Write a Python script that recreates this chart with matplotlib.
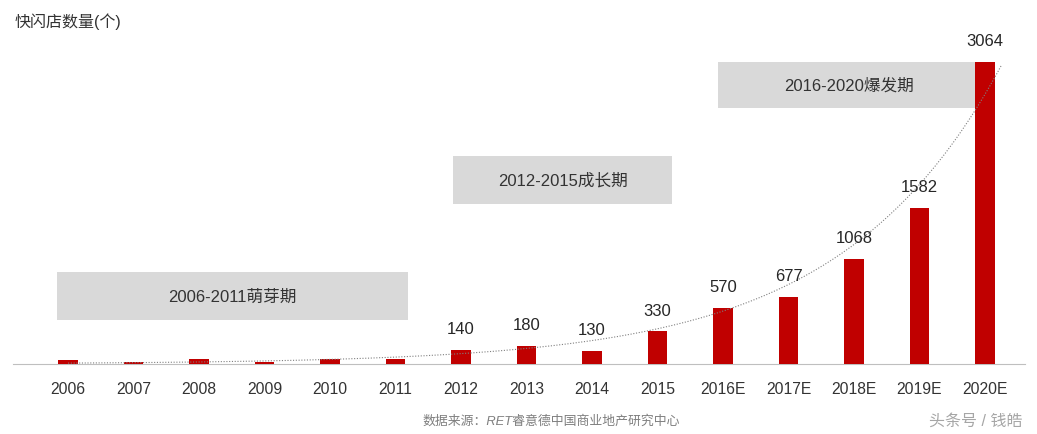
import numpy as np
import matplotlib.pyplot as plt

plt.rcParams['font.family'] = ['Liberation Sans', 'Noto Sans CJK SC']

years = ['2006', '2007', '2008', '2009', '2010', '2011', '2012', '2013',
         '2014', '2015', '2016E', '2017E', '2018E', '2019E', '2020E']
counts = [45, 20, 55, 20, 47, 47, 140, 180, 130, 330, 570, 677, 1068, 1582, 3064]
labeled_from = 6  # values shown from 2012 on

phases = ['2006-2011萌芽期', '2012-2015成长期', '2016-2020爆发期']
# box extents in data units (x0, x1, y0, y1)
phase_boxes = [(-0.17, 5.19, 446, 933), (5.88, 9.22, 1623, 2110), (9.92, 13.92, 2596, 3063)]


def trend(x, y):
    # exponential trend line, weighted log fit
    b, a = np.polyfit(x, np.log(y), 1, w=y ** 0.6)
    xs = np.linspace(x[0], x[-1] + 0.25, 200)
    return xs, np.exp(a + b * xs)


fig = plt.figure(figsize=(10.37, 4.35), dpi=100)
ax = fig.add_axes([13 / 1037, 70 / 435, 1012 / 1037, 335 / 435])

x = np.arange(len(years))
for (x0, x1, y0, y1), name in zip(phase_boxes, phases):
    ax.add_patch(plt.Rectangle((x0, y0), x1 - x0, y1 - y0, color='#d9d9d9', zorder=1, lw=0))
    ax.text((x0 + x1) / 2, (y0 + y1) / 2, name, ha='center', va='center',
            fontsize=12, color='#333333', zorder=2)

ax.bar(x, counts, width=0.3, color='#c00000', zorder=3)

xs, ys = trend(x, np.array(counts, dtype=float))
ax.plot(xs, ys, color='#808080', lw=0.8, ls=(0, (1, 1.5)), zorder=4)

for i in range(labeled_from, len(years)):
    ax.annotate(str(counts[i]), (x[i], counts[i]), xytext=(0, 10), textcoords='offset points',
                ha='center', va='bottom', fontsize=12, color='#262626', zorder=5)

ax.set_xlim(-0.84, 14.61)
ax.set_ylim(0, 3398)
ax.set_xticks(x)
ax.set_xticklabels(years, fontsize=11.3, color='#333333')
ax.tick_params(axis='x', length=0, pad=12)
ax.set_yticks([])
for side in ['top', 'right', 'left']:
    ax.spines[side].set_visible(False)
ax.spines['bottom'].set_color('#bfbfbf')

fig.text(15 / 1037, 1 - 22 / 435, '快闪店数量(个)', fontsize=11.5, color='#333333', va='center')
fig.text(551 / 1037, 1 - 421 / 435, '数据来源：RET睿意德中国商业地产研究中心', fontsize=9.3,
         color='#7f7f7f', style='italic', ha='center', va='center')
fig.text(976 / 1037, 1 - 421 / 435, '头条号 / 钱皓', fontsize=11.5, color='#a6a6a6',
         ha='center', va='center')

fig.savefig('out.png', dpi=100)
